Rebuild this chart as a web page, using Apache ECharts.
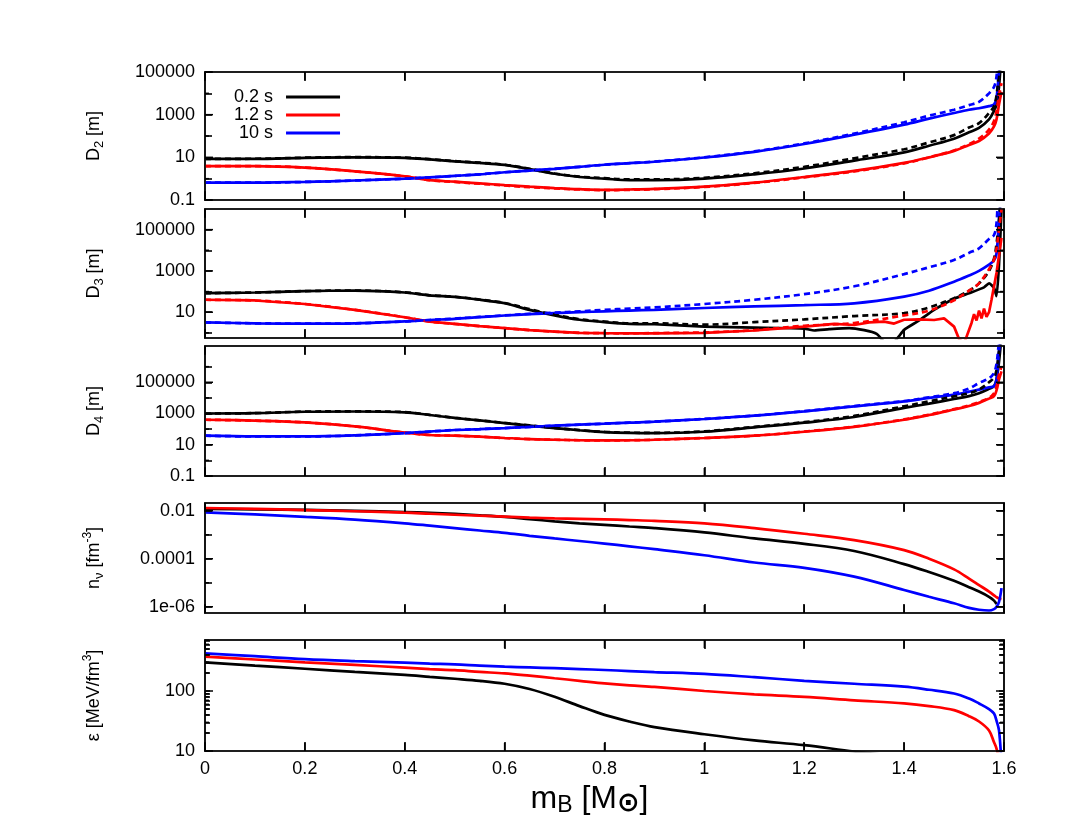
<!DOCTYPE html>
<html><head><meta charset="utf-8">
<script src="https://cdn.jsdelivr.net/npm/echarts@6/dist/echarts.min.js"></script>
<style>html,body{margin:0;padding:0;background:#fff}#c{width:1080px;height:834px;background:#fff}</style>
</head><body><div id="c"></div>
<script>
// ---------------- data ----------------
const X = [0,0.1,0.2,0.3,0.4,0.45,0.5,0.55,0.6,0.65,0.7,0.75,0.8,0.85,0.9,1.0,1.1,1.2,1.3,1.4,1.45,1.5,1.53,1.55,1.57,1.58,1.585,1.59,1.595];
const legendNames = ['0.2 s','1.2 s','10 s'];

// D2 [m]
const d2_black      = [8.5,8.5,9.5,10,9.5,8,6.5,5.5,4.4,2.8,1.7,1.2,1.0,0.85,0.85,1.0,1.6,3.0,7.0,17,35,75,150,240,600,1500,3000,20000,1e6];
const d2_black_dash = [8.5,8.6,9.6,10.2,9.6,8.2,6.6,5.6,4.5,2.9,1.75,1.25,1.05,0.92,0.92,1.1,1.8,3.6,9,24,50,110,250,400,1200,2500,8000,1e5,1e6];
const d2_red        = [3.9,3.9,3.3,2.2,1.3,0.85,0.72,0.6,0.5,0.42,0.36,0.32,0.3,0.31,0.33,0.42,0.65,1.2,2.3,5.5,10,20,38,58,130,280,600,3000,12000];
const d2_red_dash   = [3.9,3.9,3.3,2.2,1.3,0.85,0.7,0.58,0.48,0.4,0.35,0.31,0.29,0.3,0.32,0.41,0.63,1.15,2.2,5.2,10,21,42,75,200,500,1500,8000,30000];
const d2_blue       = [0.65,0.65,0.7,0.82,1.0,1.15,1.35,1.6,2.0,2.4,2.9,3.6,4.5,5.3,6.2,9.8,18,42,115,340,650,1200,1700,2000,2500,3000,6000,1e5,1e6];
const d2_blue_dash  = [0.65,0.65,0.7,0.82,1.0,1.15,1.35,1.6,2.0,2.4,2.9,3.6,4.5,5.3,6.3,10,19,45,130,440,900,1700,2800,4000,10000,20000,60000,1e6,1e6];

// D3 [m]
const x_d3_black = [0,0.1,0.2,0.3,0.4,0.45,0.5,0.55,0.6,0.65,0.7,0.75,0.8,0.85,0.9,1.0,1.1,1.2,1.22,1.25,1.29,1.32,1.345,1.36,1.37,1.38,1.39,1.4,1.43,1.46,1.5,1.53,1.56,1.57,1.58,1.585,1.59,1.595];
const d3_black   = [84,90,105,112,90,65,55,40,27,13,7,4.3,3.3,2.7,2.6,2.0,1.8,1.6,1.3,1.5,1.7,1.35,0.9,0.35,0.2,0.35,0.7,1.4,4,13,45,83,160,250,150,60,2000,1e6];
const d3_black_dash = [84,90,105,112,92,66,56,41,28,14,7.5,4.6,3.5,2.9,2.9,2.5,3.3,4.5,6.5,9,17,48,110,250,1000,4000,20000,3e5,1e7];
const x_d3_red = [0,0.1,0.2,0.3,0.4,0.45,0.5,0.55,0.6,0.65,0.7,0.75,0.8,0.85,0.9,1.0,1.1,1.2,1.26,1.3,1.33,1.36,1.38,1.4,1.43,1.46,1.48,1.5,1.51,1.52,1.535,1.54,1.545,1.55,1.555,1.56,1.565,1.57,1.575,1.585,1.595];
const d3_red   = [40,37,25,13,5.7,3.5,2.7,2.1,1.7,1.35,1.15,1.0,0.96,0.95,0.95,1.0,1.3,2.0,2.7,2.4,3.2,3.5,2.8,4.3,4.5,4.2,5,2,0.5,0.3,3,8,4,12,5,15,6,10,40,800,40000];
const d3_red_dash  = [40,37,25,13,5.7,3.5,2.7,2.1,1.7,1.35,1.15,1.0,0.96,0.95,0.97,1.05,1.35,2.2,3.0,7,12,38,110,250,1200,3500,12000,1e5,1e6];
const d3_blue      = [3.2,2.9,2.8,2.9,3.6,4.2,4.8,5.8,6.9,8,9,10,11,12,13,16,19,22,27,57,110,300,600,1000,2000,3300,7000,3e5,1e7];
const d3_blue_dash = [3.2,2.9,2.8,2.9,3.6,4.2,4.9,5.9,7,8.3,9.5,11,13,15,17,25,40,75,180,700,1500,3400,7500,12500,35000,55000,2e5,1e7,1e7];

// D4 [m]
const d4_black      = [1000,1050,1300,1350,1200,800,520,360,245,170,117,85,65,58,56,68,130,260,600,2300,4300,8500,13000,20000,38000,56000,1.5e5,2e6,1e8];
const d4_black_dash = [1000,1060,1320,1380,1230,820,530,365,250,172,118,86,66,59,58,72,140,280,700,2900,6000,12500,20000,34000,1e5,2e5,6e5,1e7,1e8];
const d4_red        = [400,350,270,150,60,42,38,33,27,23,21,19.5,19,19.5,21,27,38,68,140,400,800,1800,3000,4800,9000,13000,30000,1.5e5,5e5];
const d4_red_dash   = [400,350,270,150,60,42,38,33,27,23,21,19.5,19,19.5,21,27,38,70,145,420,850,1900,3300,5500,10000,20000,50000,3e5,1e6];
const d4_blue       = [38,34,34,40,56,70,88,100,117,140,166,195,223,260,300,445,725,1380,2900,6000,10000,16000,25000,34000,48000,56000,1.5e5,1e7,1e8];
const d4_blue_dash  = [38,34,34,40,56,70,88,100,117,140,166,195,223,260,300,450,740,1420,3000,6300,11000,20000,40000,90000,1.8e5,4e5,1.5e6,3e7,1e8];

// n_nu [fm^-3]
const nu_black = [0.012,0.0115,0.0108,0.0098,0.0088,0.0081,0.0074,0.0065,0.0056,0.0045,0.0036,0.003,0.0026,0.0022,0.0019,0.00125,0.0007,0.00042,0.00021,0.00006,0.000028,0.000012,0.0000065,0.0000043,0.0000026,0.0000018,0.0000013];
const nu_red   = [0.013,0.012,0.0107,0.0095,0.0083,0.0075,0.0068,0.0062,0.0057,0.0052,0.0048,0.0046,0.0044,0.0041,0.0038,0.003,0.0019,0.0011,0.0006,0.00023,0.0001,0.000036,0.000015,0.000008,0.0000043,0.000003,0.0000025,0.0000022,0.0000021];
const nu_blue  = [0.0085,0.007,0.0056,0.0043,0.003,0.0024,0.0019,0.0015,0.0012,0.0009,0.0007,0.00055,0.00043,0.00033,0.00025,0.00014,0.00007,0.000042,0.000018,0.000005,0.0000026,0.0000014,0.0000009,0.00000075,0.0000007,0.0000008,0.000001,0.0000016,0.000006];

// epsilon [MeV/fm^3]
const eps_black = [300,265,235,208,185,172,160,148,132,108,80,56,40,31,25,19,15,12.5,9.8,8];
const eps_red   = [373,335,300,272,245,232,222,208,197,180,163,148,134,124,117,100,88,80,70,62,56,48,38,31,22,14,11,7];
const eps_blue  = [424,380,340,315,296,286,278,265,254,247,240,232,224,215,207,193,170,148,132,118,105,91,75,62,50,42,32,22,6];

// axis ticks (labelled values, their texts, and all tick positions)
const xTicks = [0,0.2,0.4,0.6,0.8,1.0,1.2,1.4,1.6];
const d2Major = [0.1,10,1000,1e5], d2Labels = ['0.1','10','1000','100000'], d2Ticks = [0.1,1,10,100,1000,1e4,1e5];
const d3Major = [10,1000,1e5],     d3Labels = ['10','1000','100000'],       d3Ticks = [1,10,100,1000,1e4,1e5];
const d4Major = [0.1,10,1000,1e5], d4Labels = ['0.1','10','1000','100000'], d4Ticks = [0.1,1,10,100,1000,1e4,1e5,1e6];
const nuMajor = [0.01,0.0001,0.000001], nuLabels = ['0.01','0.0001','1e-06'], nuTicks = [0.01,0.001,0.0001,0.00001,0.000001];
const epsMajor = [10,100], epsLabels = ['10','100'], epsTicks = [10,20,30,40,50,60,70,80,90,100,200,300,400,500,600,700];

// ---------------- chart ----------------
const FONT = '"Liberation Sans", Arial, Helvetica, sans-serif';
const BLACK = '#000000', RED = '#ff0000', BLUE = '#0000ff';
const zip = (xs, ys) => ys.map((y, i) => [xs[i], y]);
const tickStyle = () => ({color: '#000000', width: 1.6});
const lineStyleAxis = () => ({color: '#111111', width: 1.7});

const panels = [
  {top:72,  height:128, min:0.1,   max:1e5,   major:d2Major,  labels:d2Labels,  ticks:d2Ticks,  tl:7, name:'D{s|2} [m]'},
  {top:209, height:129, min:0.5623,max:1e6,   major:d3Major,  labels:d3Labels,  ticks:d3Ticks,  tl:7, name:'D{s|3} [m]'},
  {top:346, height:130, min:0.1,   max:2.1e7, major:d4Major,  labels:d4Labels,  ticks:d4Ticks,  tl:7, name:'D{s|4} [m]'},
  {top:503, height:110, min:5.5e-7,max:0.021, major:nuMajor,  labels:nuLabels,  ticks:nuTicks,  tl:7, name:'n{s|ν} [fm{p|-3}]'},
  {top:640, height:111, min:10,    max:708,   major:epsMajor, labels:epsLabels, ticks:epsTicks, tl:5, name:'ε [MeV/fm{p|3}]'}
];

const grid = [], xAxis = [], yAxis = [];
panels.forEach((p, i) => {
  grid.push({left: 205, right: 76, top: p.top, height: p.height, show: true,
    borderColor: '#111', borderWidth: 1.7});
  const last = i === panels.length - 1;
  const xb = {type: 'value', gridIndex: i, min: 0, max: 1.6, interval: 0.2, position: 'bottom', z: 4,
    axisLine: {show: true, onZero: false, lineStyle: lineStyleAxis()}, splitLine: {show: false},
    axisTick: {show: true, inside: true, length: 9, lineStyle: tickStyle()},
    axisLabel: {show: last, margin: 9, fontFamily: FONT, fontSize: 18, color: '#000',
      formatter: v => String(+(+v).toFixed(1))}};
  if (last) {
    xb.name = 'm{s|B} [M{o|⊙}]'; xb.nameLocation = 'middle'; xb.nameGap = 30;
    xb.nameTextStyle = {fontFamily: FONT, fontSize: 32, color: '#000', lineHeight: 36, padding: [0, 30, 0, 0],
      rich: {s: {fontFamily: FONT, fontSize: 23, lineHeight: 18, verticalAlign: 'bottom', color: '#000'},
             o: {fontFamily: 'DejaVu Sans', fontSize: 27, fontWeight: 'bold', lineHeight: 20, verticalAlign: 'bottom', color: '#000'}}};
  }
  xAxis.push(xb);
  xAxis.push({type: 'value', gridIndex: i, min: 0, max: 1.6, interval: 0.2, position: 'top', z: 4,
    axisLine: {show: true, onZero: false, lineStyle: lineStyleAxis()}, splitLine: {show: false}, axisLabel: {show: false},
    axisTick: {show: true, inside: true, length: 9, lineStyle: tickStyle()}});
  const lmin = Math.log10(p.min), lmax = Math.log10(p.max);
  const majorL = p.major.map(v => Math.log10(v));
  const ticksL = p.ticks.map(v => Math.log10(v));
  const fmt = v => { for (let k = 0; k < majorL.length; k++) if (Math.abs(majorL[k] - v) < 1e-6) return p.labels[k]; return ''; };
  // data axis (log scale used by the series of this panel)
  yAxis.push({type: 'log', gridIndex: i, min: p.min, max: p.max, show: false,
    axisLine: {show: false, onZero: false}});
  // left tick/label axis
  yAxis.push({type: 'value', gridIndex: i, min: lmin, max: lmax, position: 'left', z: 4,
    axisLine: {show: true, onZero: false, lineStyle: lineStyleAxis()}, splitLine: {show: false},
    axisTick: {show: true, inside: true, length: p.tl, customValues: ticksL, lineStyle: tickStyle()},
    axisLabel: {show: true, customValues: majorL, formatter: fmt, margin: 10,
      fontFamily: FONT, fontSize: 18, color: '#000'},
    name: p.name, nameLocation: 'middle', nameGap: 99, nameRotate: 90,
    nameTextStyle: {fontFamily: FONT, fontSize: 18, color: '#000', lineHeight: 24,
      rich: {s: {fontFamily: FONT, fontSize: 13, lineHeight: 12, verticalAlign: 'bottom', color: '#000'},
             p: {fontFamily: FONT, fontSize: 12, lineHeight: 12, verticalAlign: 'top', color: '#000'}}}});
  // right tick axis (mirror)
  yAxis.push({type: 'value', gridIndex: i, min: lmin, max: lmax, position: 'right', z: 4,
    axisLine: {show: true, onZero: false, lineStyle: lineStyleAxis()}, splitLine: {show: false},
    axisTick: {show: true, inside: true, length: p.tl, customValues: ticksL, lineStyle: tickStyle()},
    axisLabel: {show: false}});
});

const series = [];
function addLine(panel, name, xs, ys, color, dashed, smooth) {
  series.push({
    type: 'line', name: name, xAxisIndex: panel * 2, yAxisIndex: panel * 3,
    data: zip(xs, ys), showSymbol: false, clip: true,
    smooth: smooth === undefined ? 0.35 : smooth,
    lineStyle: {color: color, width: 2.7, type: dashed ? [6, 4] : 'solid'},
    itemStyle: {color: color}, silent: true
  });
}
// panel 0: D2
addLine(0, legendNames[0], X, d2_black, BLACK, false);
addLine(0, legendNames[1], X, d2_red, RED, false);
addLine(0, legendNames[2], X, d2_blue, BLUE, false);
addLine(0, 'd2 0.2 s dashed', X, d2_black_dash, BLACK, true);
addLine(0, 'd2 1.2 s dashed', X, d2_red_dash, RED, true);
addLine(0, 'd2 10 s dashed', X, d2_blue_dash, BLUE, true);
// panel 1: D3
addLine(1, 'd3 0.2 s', x_d3_black, d3_black, BLACK, false, 0.2);
addLine(1, 'd3 1.2 s', x_d3_red, d3_red, RED, false, false);
addLine(1, 'd3 10 s', X, d3_blue, BLUE, false);
addLine(1, 'd3 0.2 s dashed', X, d3_black_dash, BLACK, true);
addLine(1, 'd3 1.2 s dashed', X, d3_red_dash, RED, true);
addLine(1, 'd3 10 s dashed', X, d3_blue_dash, BLUE, true);
// panel 2: D4
addLine(2, 'd4 0.2 s', X, d4_black, BLACK, false);
addLine(2, 'd4 1.2 s', X, d4_red, RED, false);
addLine(2, 'd4 10 s', X, d4_blue, BLUE, false);
addLine(2, 'd4 0.2 s dashed', X, d4_black_dash, BLACK, true);
addLine(2, 'd4 1.2 s dashed', X, d4_red_dash, RED, true);
addLine(2, 'd4 10 s dashed', X, d4_blue_dash, BLUE, true);
// panel 3: n_nu
addLine(3, 'nu 0.2 s', X, nu_black, BLACK, false);
addLine(3, 'nu 1.2 s', X, nu_red, RED, false);
addLine(3, 'nu 10 s', X, nu_blue, BLUE, false);
// panel 4: epsilon
addLine(4, 'eps 0.2 s', X, eps_black, BLACK, false);
addLine(4, 'eps 1.2 s', X, eps_red, RED, false);
addLine(4, 'eps 10 s', X, eps_blue, BLUE, false);

const chart = echarts.init(document.getElementById('c'));
chart.setOption({
  animation: false,
  grid: grid, xAxis: xAxis, yAxis: yAxis, series: series,
  legend: {
    data: legendNames, orient: 'vertical', left: 229, top: 83, align: 'right',
    icon: 'rect', itemWidth: 54, itemHeight: 3, itemGap: 0, selectedMode: false,
    textStyle: {fontFamily: FONT, fontSize: 18, color: '#000', lineHeight: 18, padding: [0, 8, 0, 0]}
  }
});

// inward tick marks on all four sides of each panel, positioned through the axes' own scales
const tickEls = [];
panels.forEach((p, i) => {
  const xi = i * 2, yi = i * 3;
  const xl = chart.convertToPixel({xAxisIndex: xi}, 0);
  const xr = chart.convertToPixel({xAxisIndex: xi}, 1.6);
  const yb = chart.convertToPixel({yAxisIndex: yi}, p.min);
  const yt = chart.convertToPixel({yAxisIndex: yi}, p.max);
  const st = {stroke: '#000', lineWidth: 1.5};
  xTicks.forEach(v => {
    const px = chart.convertToPixel({xAxisIndex: xi}, v);
    tickEls.push({type: 'line', silent: true, z: 50, shape: {x1: px, y1: yb, x2: px, y2: yb - 8}, style: st});
    tickEls.push({type: 'line', silent: true, z: 50, shape: {x1: px, y1: yt, x2: px, y2: yt + 8}, style: st});
  });
  p.ticks.forEach(v => {
    const len = p.major.indexOf(v) >= 0 ? 8 : 4;
    const py = chart.convertToPixel({yAxisIndex: yi}, v);
    tickEls.push({type: 'line', silent: true, z: 50, shape: {x1: xl, y1: py, x2: xl + len, y2: py}, style: st});
    tickEls.push({type: 'line', silent: true, z: 50, shape: {x1: xr, y1: py, x2: xr - len, y2: py}, style: st});
  });
});
chart.setOption({graphic: {elements: tickEls}});
</script>
</body></html>
